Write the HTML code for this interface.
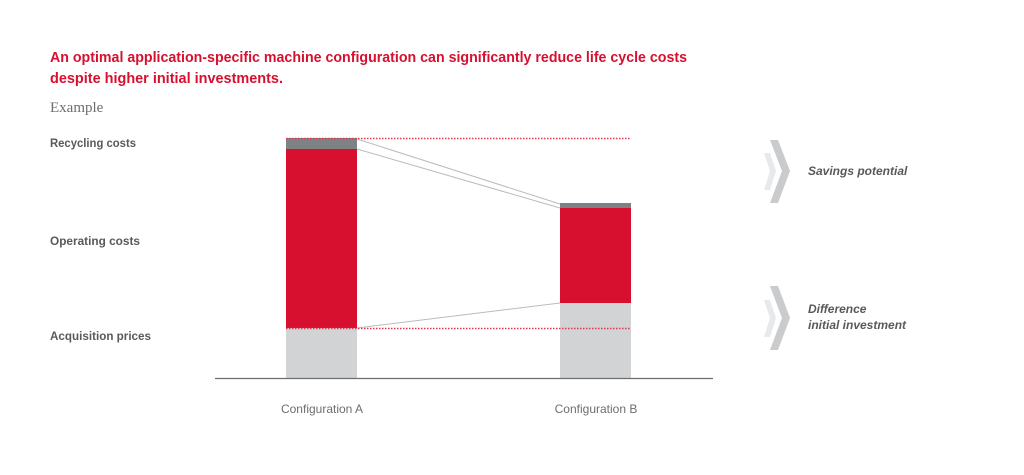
<!DOCTYPE html>
<html><head><meta charset="utf-8"><style>html,body{margin:0;padding:0;background:#fff}svg{display:block}</style></head>
<body>
<svg width="1024" height="475" viewBox="0 0 1024 475" xmlns="http://www.w3.org/2000/svg" font-family="Liberation Sans, sans-serif">
<text x="50" y="62" font-size="15" font-weight="bold" fill="#d7102f" textLength="637" lengthAdjust="spacingAndGlyphs">An optimal application-specific machine configuration can significantly reduce life cycle costs</text>
<text x="50" y="83" font-size="15" font-weight="bold" fill="#d7102f" textLength="233" lengthAdjust="spacingAndGlyphs">despite higher initial investments.</text>
<text x="50" y="112" font-size="15" fill="#6d6e70" font-family="Liberation Serif, serif">Example</text>
<g font-size="11.5" font-weight="bold" fill="#58595b">
<text x="50" y="147" textLength="86" lengthAdjust="spacingAndGlyphs">Recycling costs</text>
<text x="50" y="245" textLength="90" lengthAdjust="spacingAndGlyphs">Operating costs</text>
<text x="50" y="340" textLength="101" lengthAdjust="spacingAndGlyphs">Acquisition prices</text>
</g>
<rect x="286" y="328" width="71" height="50" fill="#d1d3d4"/>
<rect x="286" y="149" width="71" height="179" fill="#d7102f"/>
<rect x="286" y="138" width="71" height="11" fill="#7f8284"/>
<rect x="560" y="303" width="71" height="75" fill="#d1d3d4"/>
<rect x="560" y="208" width="71" height="95" fill="#d7102f"/>
<rect x="560" y="203" width="71" height="5" fill="#7f8284"/>
<g stroke="#b9bbbd" stroke-width="1" fill="none">
<line x1="357" y1="139" x2="560" y2="204"/>
<line x1="357" y1="149" x2="560" y2="208"/>
<line x1="357" y1="328" x2="560" y2="303"/>
</g>
<g stroke="#e4354f" stroke-width="1.5" stroke-dasharray="1.5,1.5">
<line x1="286" y1="138.5" x2="631" y2="138.5"/>
<line x1="286" y1="328.5" x2="631" y2="328.5"/>
</g>
<line x1="215" y1="378.5" x2="713" y2="378.5" stroke="#6d6e70" stroke-width="1.3"/>
<g font-size="12" fill="#6d6e70" text-anchor="middle">
<text x="322" y="413">Configuration A</text>
<text x="596" y="413">Configuration B</text>
</g>
<g>
<polygon points="764,153 770,153 776,171 770,190 764,190 770,171" fill="#e8e9ea"/>
<polygon points="770,140 778,140 790,171 778,203 770,203 782,171" fill="#c9cbcd"/>
<polygon points="764,300 770,300 776,318 770,337 764,337 770,318" fill="#e8e9ea"/>
<polygon points="770,286 778,286 790,318 778,350 770,350 782,318" fill="#c9cbcd"/>
</g>
<g font-size="12" font-weight="bold" font-style="italic" fill="#58595b">
<text x="808" y="175">Savings potential</text>
<text x="808" y="313">Difference</text>
<text x="808" y="329">initial investment</text>
</g>
</svg>
</body></html>
